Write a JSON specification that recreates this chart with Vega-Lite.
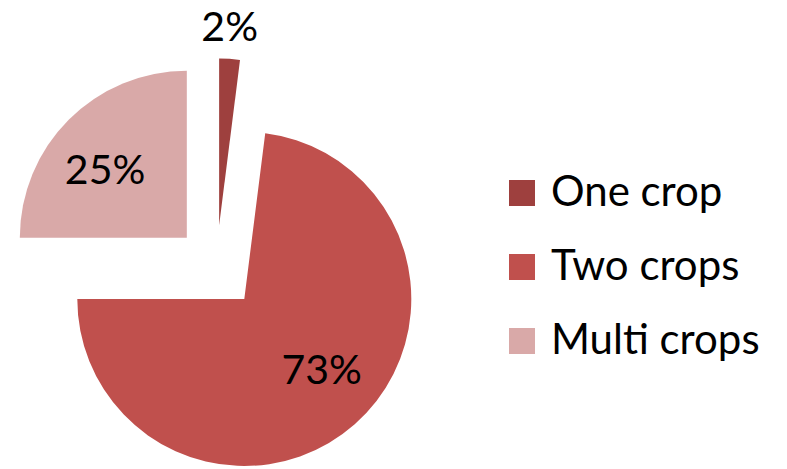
{
  "$schema": "https://vega.github.io/schema/vega-lite/v6.json",
  "width": 433,
  "height": 535,
  "autosize": "none",
  "padding": {"left": 0, "top": 0, "right": 354, "bottom": 0},
  "background": "white",
  "config": {"view": {"stroke": null}, "font": "Lato"},
  "data": {
    "values": [
      {"category": "One crop", "value": 2, "label": "2%", "order": 1},
      {"category": "Two crops", "value": 73, "label": "73%", "order": 2},
      {"category": "Multi crops", "value": 25, "label": "25%", "order": 3}
    ]
  },
  "layer": [
    {
      "transform": [
        {"stack": "value", "groupby": [], "sort": [{"field": "order"}], "as": ["v0", "v1"]},
        {"filter": "datum.category === 'One crop'"}
      ],
      "mark": {"type": "arc", "outerRadius": 167, "xOffset": 2.6, "yOffset": -41.9},
      "encoding": {
        "theta": {"field": "v0", "type": "quantitative", "stack": null, "scale": {"domain": [0, 100]}},
        "theta2": {"field": "v1"},
        "color": {
          "field": "category", "type": "nominal",
          "scale": {"domain": ["One crop", "Two crops", "Multi crops"], "range": ["#9E403E", "#C0504D", "#D9A9A8"]},
          "legend": {
            "orient": "none", "legendX": 501, "legendY": 172, "title": null, "padding": 0,
            "symbolType": "square", "symbolSize": 676, "symbolStrokeWidth": 0,
            "labelFontSize": 42, "labelFont": "Lato", "labelColor": "black",
            "rowPadding": 32, "labelOffset": 8, "labelLimit": 400
          }
        }
      }
    },
    {
      "transform": [
        {"stack": "value", "groupby": [], "sort": [{"field": "order"}], "as": ["v0", "v1"]},
        {"filter": "datum.category === 'Two crops'"}
      ],
      "mark": {"type": "arc", "outerRadius": 167, "xOffset": 27.8, "yOffset": 31.5},
      "encoding": {
        "theta": {"field": "v0", "type": "quantitative", "stack": null, "scale": {"domain": [0, 100]}},
        "theta2": {"field": "v1"},
        "color": {"field": "category", "type": "nominal"}
      }
    },
    {
      "transform": [
        {"stack": "value", "groupby": [], "sort": [{"field": "order"}], "as": ["v0", "v1"]},
        {"filter": "datum.category === 'Multi crops'"}
      ],
      "mark": {"type": "arc", "outerRadius": 167, "xOffset": -29.7, "yOffset": -29.7},
      "encoding": {
        "theta": {"field": "v0", "type": "quantitative", "stack": null, "scale": {"domain": [0, 100]}},
        "theta2": {"field": "v1"},
        "color": {"field": "category", "type": "nominal"}
      }
    },
    {
      "mark": {"type": "text", "radius": 242, "fontSize": 41, "font": "Lato", "color": "black", "xOffset": -2, "yOffset": 3},
      "encoding": {
        "theta": {"field": "value", "type": "quantitative", "stack": true, "scale": {"domain": [0, 100]}},
        "order": {"field": "order"},
        "detail": {"field": "category"},
        "text": {"condition": {"test": "datum.category === 'One crop'", "field": "label"}, "value": ""}
      }
    },
    {
      "mark": {"type": "text", "radius": 147, "fontSize": 41, "font": "Lato", "color": "black", "xOffset": 8, "yOffset": -6},
      "encoding": {
        "theta": {"field": "value", "type": "quantitative", "stack": true, "scale": {"domain": [0, 100]}},
        "order": {"field": "order"},
        "detail": {"field": "category"},
        "text": {"condition": {"test": "datum.category === 'Two crops'", "field": "label"}, "value": ""}
      }
    },
    {
      "mark": {"type": "text", "radius": 147, "fontSize": 41, "font": "Lato", "color": "black", "xOffset": -7.5, "yOffset": 8.5},
      "encoding": {
        "theta": {"field": "value", "type": "quantitative", "stack": true, "scale": {"domain": [0, 100]}},
        "order": {"field": "order"},
        "detail": {"field": "category"},
        "text": {"condition": {"test": "datum.category === 'Multi crops'", "field": "label"}, "value": ""}
      }
    }
  ]
}
